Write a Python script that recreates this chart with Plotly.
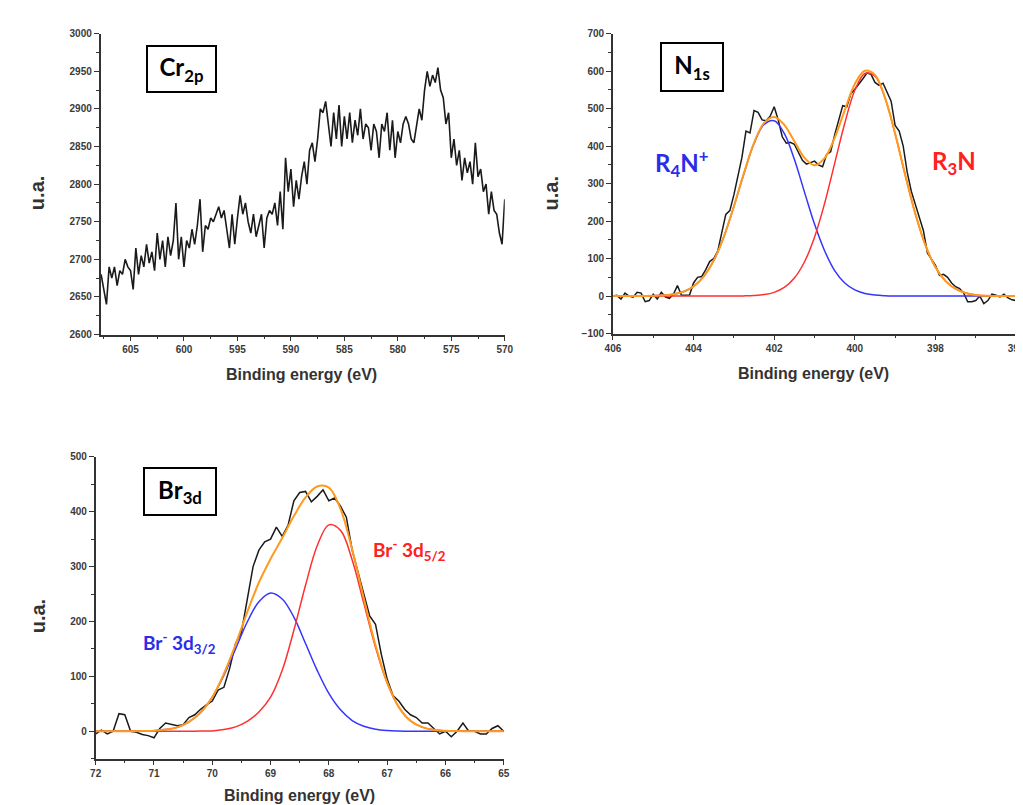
import numpy as np
import plotly.graph_objects as go

# ---------------- Cr 2p ----------------
cr_x_start = 607.75
cr_x_step = 0.25
cr_counts = [
    2680, 2660, 2640, 2690, 2675, 2690, 2665, 2685,
    2680, 2700, 2690, 2685, 2660, 2715, 2680, 2705,
    2690, 2720, 2695, 2710, 2685, 2735, 2700, 2725,
    2690, 2730, 2705, 2725, 2775, 2700, 2730, 2690,
    2725, 2715, 2740, 2720, 2745, 2780, 2710, 2745,
    2740, 2755, 2750, 2760, 2770, 2755, 2765, 2740,
    2715, 2760, 2720, 2755, 2785, 2760, 2775, 2750,
    2735, 2760, 2730, 2745, 2760, 2715, 2755, 2765,
    2760, 2775, 2745, 2790, 2740, 2835, 2790, 2820,
    2770, 2805, 2780, 2810, 2830, 2800, 2845, 2855,
    2830, 2860, 2900, 2895, 2910, 2880, 2850, 2895,
    2860, 2905, 2850, 2890, 2860, 2895, 2855, 2885,
    2865, 2900, 2860, 2880, 2875, 2845, 2880, 2870,
    2835, 2880, 2870, 2895, 2845, 2885, 2835, 2870,
    2855, 2880, 2890, 2880, 2860, 2855, 2880, 2900,
    2885, 2925, 2950, 2930, 2945, 2935, 2955, 2925,
    2915, 2880, 2895, 2835, 2860, 2825, 2845, 2805,
    2835, 2815, 2830, 2800, 2855, 2810, 2820, 2790,
    2800, 2760, 2790, 2765, 2760, 2735, 2720, 2780,
]
cr_x = cr_x_start - cr_x_step * np.arange(len(cr_counts))

# ---------------- N 1s ----------------
n_data_start = 406.0
n_data_step = 0.1
n_data = [
    0, 2, -8, 8, 0, -3, 10, 8, -15, -12,
    5, -8, 10, -2, -6, 5, 28, 2, 2, 3,
    35, 50, 52, 70, 92, 100, 120, 165, 218, 228,
    270, 320, 370, 440, 435, 495, 490, 470, 468, 480,
    505, 470, 425, 408, 410, 405, 385, 362, 352, 355,
    360, 350, 345, 378, 385, 430, 470, 508, 505, 540,
    552, 565, 580, 595, 592, 570, 562, 568, 545, 520,
    455, 440, 400, 330, 280, 245, 205, 175, 115, 100,
    82, 55, 58, 50, 35, 25, 20, 8, -15, -15,
    -12, 0, -20, -12, 5, 2, -2, 5, -5, -10,
    -12,
]
n_data_x = n_data_start - n_data_step * np.arange(len(n_data))

n_fit_start = 406.0
n_fit_step = 0.25
n_fit_r4n = [
    0, 0, 0.1, 0.3, 0.6, 2, 4.7, 11.5, 25.6, 52, 95, 158, 239, 327, 407, 458,
    468, 434, 365, 278, 192, 121, 68, 35, 16.5, 7, 2.7, 1, 0.3,
    0, 0, 0, 0, 0, 0, 0, 0, 0, 0, 0, 0,
]
n_fit_r3n = [
    0, 0, 0, 0, 0, 0, 0, 0, 0, 0, 0, 0,
    0.1, 0.5, 1.5, 4, 10, 23, 48, 91, 157, 247, 354, 461, 549, 594, 587, 528,
    433, 323, 220, 136, 77, 40, 19, 8, 3, 1, 0.4, 0.1, 0,
]
n_fit_env = [
    0, 0, 0.1, 0.3, 0.6, 2, 5, 12, 26, 52, 95, 158, 239, 328, 409, 462,
    478, 457, 413, 369, 349, 368, 422, 496, 566, 601, 590, 529, 433, 323,
    220, 136, 77, 40, 19, 8, 3, 1, 0.4, 0.1, 0,
]
n_fit_x = n_fit_start - n_fit_step * np.arange(len(n_fit_env))

# ---------------- Br 3d ----------------
br_data_start = 72.0
br_data_step = 0.1
br_data = [
    -5, 2, -5, 0, 32, 30, 0, -2, -6, -8,
    -12, 5, 15, 12, 10, 12, 25, 30, 40, 48,
    55, 75, 80, 115, 160, 180, 240, 300, 330, 345,
    350, 372, 355, 375, 420, 435, 437, 418, 428, 440,
    420, 425, 410, 390, 330, 290, 255, 210, 195, 140,
    95, 65, 55, 40, 30, 25, 15, 15, 5, -5,
    0, -10, 0, 15, 0, 0, -5, -5, 5, 10,
    0,
]
br_data_x = br_data_start - br_data_step * np.arange(len(br_data))

br_fit_start = 72.0
br_fit_step = 0.2
br_fit_32 = [
    0, 0, 0, 0, 0.2, 1, 3, 7, 17, 34, 62, 102, 150, 199, 236, 252,
    241, 208, 160, 111, 69, 39, 19.5, 9, 3.6, 1.3, 0.4, 0,
    0, 0, 0, 0, 0, 0, 0, 0,
]
br_fit_52 = [
    0, 0, 0, 0, 0, 0, 0, 0, 0.1, 0.2, 0.5, 3, 8, 18, 35, 62,
    111, 184, 266, 338, 376, 366, 312, 233, 153, 88, 44, 19, 7.5, 2.5,
    0.8, 0.2, 0, 0, 0, 0,
]
br_fit_env = [
    0, 0, 0, 0, 0.2, 1, 3, 7, 17, 34, 62, 105, 158, 217, 271, 314,
    352, 392, 426, 446, 444, 405, 331, 242, 157, 89, 44, 19, 7.5, 2.5,
    0.8, 0.2, 0, 0, 0, 0,
]
br_fit_x = br_fit_start - br_fit_step * np.arange(len(br_fit_env))

BLACK = "#1a1a1a"
BLUE = "#3535ff"
RED = "#ff3030"
ORANGE = "#ff9a1c"
LBLUE = "#2c2ce8"
LRED = "#ff2020"

fig = go.Figure()

# panel 1
fig.add_trace(go.Scatter(x=cr_x, y=cr_counts, mode="lines",
                         line=dict(color=BLACK, width=1.6), xaxis="x", yaxis="y"))
# panel 2
fig.add_trace(go.Scatter(x=n_data_x, y=n_data, mode="lines",
                         line=dict(color=BLACK, width=1.5), xaxis="x2", yaxis="y2"))
fig.add_trace(go.Scatter(x=n_fit_x, y=n_fit_r4n, mode="lines", line_shape="spline",
                         line=dict(color=BLUE, width=1.5), xaxis="x2", yaxis="y2"))
fig.add_trace(go.Scatter(x=n_fit_x, y=n_fit_r3n, mode="lines", line_shape="spline",
                         line=dict(color=RED, width=1.5), xaxis="x2", yaxis="y2"))
fig.add_trace(go.Scatter(x=n_fit_x, y=n_fit_env, mode="lines", line_shape="spline",
                         line=dict(color=ORANGE, width=2), xaxis="x2", yaxis="y2"))
# panel 3
fig.add_trace(go.Scatter(x=br_data_x, y=br_data, mode="lines",
                         line=dict(color=BLACK, width=1.5), xaxis="x3", yaxis="y3"))
fig.add_trace(go.Scatter(x=br_fit_x, y=br_fit_32, mode="lines", line_shape="spline",
                         line=dict(color=BLUE, width=1.5), xaxis="x3", yaxis="y3"))
fig.add_trace(go.Scatter(x=br_fit_x, y=br_fit_52, mode="lines", line_shape="spline",
                         line=dict(color=RED, width=1.5), xaxis="x3", yaxis="y3"))
fig.add_trace(go.Scatter(x=br_fit_x, y=br_fit_env, mode="lines", line_shape="spline",
                         line=dict(color=ORANGE, width=2), xaxis="x3", yaxis="y3"))

W, H = 1023, 805


def px_x(a, b):
    return [a / W, b / W]


def px_y(top, bottom):
    return [1 - bottom / H, 1 - top / H]


def axis(domain, rng, tick0, dtick, minor_dtick, anchor):
    return dict(domain=domain, range=rng, anchor=anchor,
                showgrid=False, zeroline=False, showline=True,
                linecolor="#333333", linewidth=1.6,
                ticks="outside", ticklen=5, tickwidth=1.4, tickcolor="#333333",
                tickmode="linear", tick0=tick0, dtick=dtick,
                tickfont=dict(family="Liberation Sans", size=10, color="#3a3a3a", weight="bold"),
                minor=dict(ticks="outside", ticklen=3, tickwidth=1.2, tickcolor="#333333",
                           dtick=minor_dtick, tick0=tick0, showgrid=False))


fig.update_layout(
    width=W, height=H, margin=dict(l=0, r=0, t=0, b=0),
    paper_bgcolor="white", plot_bgcolor="white", showlegend=False,
    xaxis=axis(px_x(86, 497), [607.8, 570], 570, 5, 2.5, "y"),
    yaxis=axis(px_y(21, 326), [2600, 3000], 2600, 50, 25, "x"),
    xaxis2=axis(px_x(607, 1017), [406, 396], 396, 2, 1, "y2"),
    yaxis2=axis(px_y(21, 325), [-100, 700], -100, 100, 50, "x2"),
    xaxis3=axis(px_x(81, 496), [72, 65], 65, 1, 0.5, "y3"),
    yaxis3=axis(px_y(450, 756), [-50, 500], 0, 100, 50, "x3"),
)

TITLE_FONT = dict(family="Liberation Sans", size=16, color="#333333", weight="bold")
UA_FONT = dict(family="Liberation Sans", size=20, color="#333333", weight="bold")


def ann(x, y, text, font, **kw):
    fig.add_annotation(x=x / W, y=1 - y / H, xref="paper", yref="paper", text=text,
                       showarrow=False, font=font, xanchor="center", yanchor="middle", **kw)


# axis titles
ann(290, 367, "Binding energy (eV)", TITLE_FONT)
ann(811, 366, "Binding energy (eV)", TITLE_FONT)
ann(288, 793, "Binding energy (eV)", TITLE_FONT)
ann(22, 183, "u.a.", UA_FONT, textangle=-90)
ann(545, 183, "u.a.", UA_FONT, textangle=-90)
ann(22, 612, "u.a.", UA_FONT, textangle=-90)

BOX_FONT = dict(family="Lato", size=24, color="black", weight="bold")
ann(168.5, 57, "Cr<sub>2p</sub>", BOX_FONT, bordercolor="black", borderwidth=2,
    borderpad=0, width=67, height=44, bgcolor="white")
ann(687.5, 55, "N<sub>1s</sub>", BOX_FONT, bordercolor="black", borderwidth=2,
    borderpad=0, width=60, height=46, bgcolor="white")
ann(167, 485, "Br<sub>3d</sub>", BOX_FONT, bordercolor="black", borderwidth=2,
    borderpad=0, width=70, height=45, bgcolor="white")

LAB_FONT_B = dict(family="Lato", size=24, color=LBLUE, weight="bold")
LAB_FONT_R = dict(family="Lato", size=24, color=LRED, weight="bold")
ann(677, 152, "R<sub>4</sub>N<sup>+</sup>", LAB_FONT_B)
ann(954, 152, "R<sub>3</sub>N", LAB_FONT_R)

BR_FONT_B = dict(family="Lato", size=19, color=LBLUE, weight="bold")
BR_FONT_R = dict(family="Lato", size=19, color=LRED, weight="bold")
ann(400, 544, "Br<sup>-</sup> 3d<sub>5/2</sub>", BR_FONT_R)
ann(166, 639, "Br<sup>-</sup> 3d<sub>3/2</sub>", BR_FONT_B)

fig.write_html("out.html")
